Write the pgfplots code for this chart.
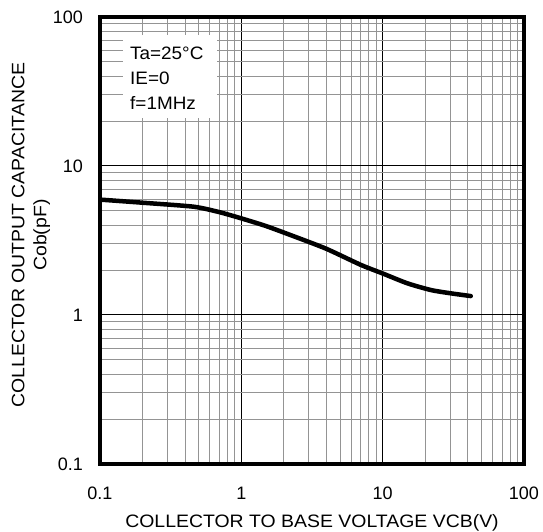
\documentclass[border=0pt]{standalone}
\usepackage{fontspec}
\setmainfont{Liberation Sans}
\newfontfamily\wide[FakeStretch=1.08]{Liberation Sans}
\newfontfamily\legfont[FakeStretch=1.05]{Liberation Sans}
\usepackage{pgfplots}
\pgfplotsset{compat=1.18}
\begin{document}
\begin{tikzpicture}
\begin{axis}[
  at={(0,0)}, anchor=south west,
  scale only axis, width=424pt, height=447pt,
  xmode=log, ymode=log,
  xmin=0.1, xmax=100, ymin=0.1, ymax=100,
  xtick={0.1,1,10,100}, xticklabels={0.1,1,10,100},
  ytick={0.1,1,10,100}, yticklabels={0.1,1,10,100},
  major tick length=0pt, minor tick length=0pt,
  grid=both,
  major grid style={black, line width=1pt},
  minor grid style={black!42, line width=1pt},
  axis line style={line width=4pt, line join=miter},
  ticklabel style={font=\fontsize{18}{20}\selectfont, inner sep=0pt},
  xticklabel style={anchor=north, yshift=-23pt},
  yticklabel style={anchor=east, xshift=-17pt},
  xlabel={COLLECTOR TO BASE VOLTAGE VCB(V)},
  ylabel={COLLECTOR OUTPUT CAPACITANCE\\Cob(pF)},
  label style={font=\wide\fontsize{18}{22}\selectfont, inner sep=0pt},
  xlabel style={at={(rel axis cs:0.5,0)}, anchor=base, yshift=-63.5pt},
  ylabel style={at={(rel axis cs:0,0.512)}, anchor=center, yshift=69pt, align=center},
]
\fill[white] (rel axis cs:0.054,0.774) rectangle (rel axis cs:0.276,0.960);
\node[anchor=base west, inner sep=0pt, font=\legfont\fontsize{18}{20}\selectfont] at (rel axis cs:0.0708,0.905) {Ta=25°C};
\node[anchor=base west, inner sep=0pt, font=\legfont\fontsize{18}{20}\selectfont] at (rel axis cs:0.0708,0.848) {IE=0};
\node[anchor=base west, inner sep=0pt, font=\legfont\fontsize{18}{20}\selectfont] at (rel axis cs:0.0708,0.792) {f=1MHz};
\addplot[black, line width=4.5pt, line cap=round, line join=round, smooth, tension=0.4] coordinates {
  (0.1,5.95) (0.2,5.67) (0.46,5.33) (0.7,4.9) (1,4.45) (1.5,3.95)
  (2.4,3.35) (4,2.78) (7,2.17) (10,1.9) (15,1.63) (22,1.47) (30,1.40) (42,1.34)
};
\end{axis}
\pgfresetboundingbox
\useasboundingbox (-100pt,-68pt) rectangle (443pt,464pt);
\end{tikzpicture}
\end{document}
